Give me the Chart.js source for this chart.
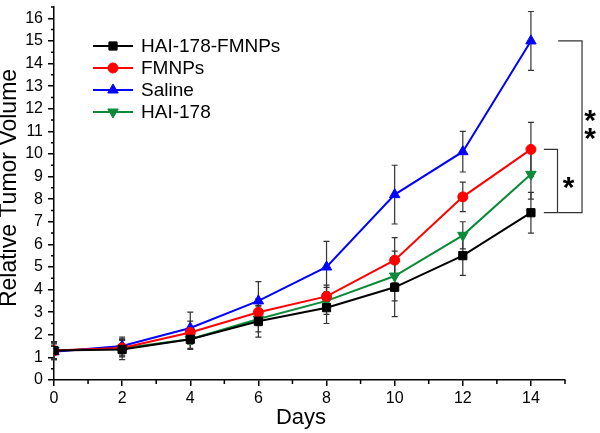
<!DOCTYPE html>
<html>
<head>
<meta charset="utf-8">
<script src="https://cdn.jsdelivr.net/npm/chart.js@4.4.0/dist/chart.umd.min.js"></script>
<style>
  html, body { margin: 0; padding: 0; background: #fff; }
</style>
</head>
<body>
<canvas id="chart" width="600" height="433"></canvas>
<script>
  // Datos
  const days = [0, 2, 4, 6, 8, 10, 12, 14];
  const hai178fmnps = [1.3, 1.35, 1.8, 2.6, 3.2, 4.1, 5.5, 7.4];
  const fmnps       = [1.3, 1.42, 2.1, 3.0, 3.7, 5.3, 8.1, 10.2];
  const saline      = [1.25, 1.5, 2.3, 3.5, 5.0, 8.2, 10.1, 15.0];
  const hai178      = [1.3, 1.4, 1.8, 2.7, 3.5, 4.6, 6.4, 9.1];

  const errHai178fmnps = [0.4, 0.45, 0.45, 0.7, 0.7, 1.3, 0.87, 0.9];
  const errFmnps       = [0.35, 0.4, 0.5, 0.6, 0.5, 1.0, 0.65, 1.2];
  const errSaline      = [0.35, 0.4, 0.7, 0.85, 1.13, 1.3, 0.9, 1.3];
  const errHai178      = [0.35, 0.35, 0.4, 0.57, 0.6, 1.1, 0.6, 1.1];

  const xTicks = [0, 2, 4, 6, 8, 10, 12, 14];
  const xMinor = [1, 3, 5, 7, 9, 11, 13, 15];
  const yTicks = [0, 1, 2, 3, 4, 5, 6, 7, 8, 9, 10, 11, 12, 13, 14, 15, 16];
  const yMinor = [0.5, 1.5, 2.5, 3.5, 4.5, 5.5, 6.5, 7.5, 8.5, 9.5, 10.5, 11.5, 12.5, 13.5, 14.5, 15.5, 16.5];

  const xTitle = 'Days';
  const yTitle = 'Relative Tumor Volume';

  const FONT = "'Liberation Sans', Arial, sans-serif";
  const GREEN = '#0b8a3a';

  const toPoints = (ys) => ys.map((y, i) => ({ x: days[i], y }));

  const series = [
    { label: 'HAI-178-FMNPs', data: hai178fmnps, err: errHai178fmnps, color: '#000000', style: 'rect',     radius: 5.8, rotation: 0 },
    { label: 'FMNPs',         data: fmnps,       err: errFmnps,       color: '#ff0000', style: 'circle',   radius: 5,   rotation: 0 },
    { label: 'Saline',        data: saline,      err: errSaline,      color: '#0000ff', style: 'triangle', radius: 6,   rotation: 0 },
    { label: 'HAI-178',       data: hai178,      err: errHai178,      color: GREEN,     style: 'triangle', radius: 6,   rotation: 180 }
  ];

  // Barras de error
  const errorBars = {
    id: 'errorBars',
    beforeDatasetsDraw(chart) {
      const { ctx, scales: { x, y } } = chart;
      ctx.save();
      ctx.strokeStyle = '#333';
      ctx.lineWidth = 1.2;
      series.forEach(s => {
        s.data.forEach((v, i) => {
          const px = x.getPixelForValue(days[i]);
          const t = y.getPixelForValue(v + s.err[i]);
          const b = y.getPixelForValue(v - s.err[i]);
          ctx.beginPath();
          ctx.moveTo(px, t); ctx.lineTo(px, b);
          ctx.moveTo(px - 3, t); ctx.lineTo(px + 3, t);
          ctx.moveTo(px - 3, b); ctx.lineTo(px + 3, b);
          ctx.stroke();
        });
      });
      ctx.restore();
    }
  };

  // Ticks menores y títulos de ejes
  const axisExtras = {
    id: 'axisExtras',
    afterDraw(chart) {
      const { ctx, scales: { x, y }, chartArea } = chart;
      ctx.save();
      ctx.strokeStyle = '#000';
      ctx.lineWidth = 1.5;
      ctx.beginPath();
      xMinor.forEach(v => {
        const px = x.getPixelForValue(v);
        ctx.moveTo(px, chartArea.bottom); ctx.lineTo(px, chartArea.bottom + 4);
      });
      yMinor.forEach(v => {
        const py = y.getPixelForValue(v);
        ctx.moveTo(chartArea.left, py); ctx.lineTo(chartArea.left - 3, py);
      });
      ctx.stroke();

      ctx.fillStyle = '#000';
      ctx.font = '22px ' + FONT;
      ctx.textAlign = 'center';
      ctx.textBaseline = 'middle';
      ctx.fillText(xTitle, chartArea.left + 247, chartArea.bottom + 38);

      ctx.font = '23px ' + FONT;
      ctx.translate(10, chartArea.top + 181);
      ctx.rotate(-Math.PI / 2);
      ctx.fillText(yTitle, 0, 0);
      ctx.restore();
    }
  };

  function marker(ctx, s, px, py) {
    ctx.fillStyle = s.color;
    ctx.strokeStyle = s.color;
    ctx.lineWidth = 1;
    if (Chart.helpers && Chart.helpers.drawPoint) {
      Chart.helpers.drawPoint(ctx, { pointStyle: s.style, radius: s.radius, rotation: s.rotation, borderWidth: 1 }, px, py);
    } else {
      ctx.beginPath(); ctx.arc(px, py, s.radius, 0, Math.PI * 2); ctx.fill();
    }
  }

  // Leyenda dentro del área
  const innerLegend = {
    id: 'innerLegend',
    afterDraw(chart) {
      const { ctx, chartArea } = chart;
      const x0 = chartArea.left + 39;
      ctx.save();
      ctx.font = '19px ' + FONT;
      ctx.textBaseline = 'middle';
      series.forEach((s, i) => {
        const py = chartArea.top + 39 + i * 22;
        ctx.strokeStyle = s.color;
        ctx.lineWidth = 2;
        ctx.beginPath(); ctx.moveTo(x0, py); ctx.lineTo(x0 + 40, py); ctx.stroke();
        marker(ctx, s, x0 + 20, py);
        ctx.fillStyle = '#000';
        ctx.fillText(s.label, x0 + 48, py + 1);
      });
      ctx.restore();
    }
  };

  // Corchetes de significancia
  const brackets = [
    { top: fmnps[7],  bottom: hai178fmnps[7], from: 14.38, to: 14.78, stars: 1 },
    { top: saline[7], bottom: hai178fmnps[7], from: 14.8,  to: 15.5,  stars: 2 }
  ];
  const significance = {
    id: 'significance',
    afterDraw(chart) {
      const { ctx, scales: { x, y } } = chart;
      ctx.save();
      ctx.strokeStyle = '#333';
      ctx.lineWidth = 1.2;
      ctx.fillStyle = '#000';
      ctx.font = 'bold 30px ' + FONT;
      ctx.textAlign = 'center';
      ctx.textBaseline = 'alphabetic';
      brackets.forEach(b => {
        const x0 = x.getPixelForValue(b.from), x1 = x.getPixelForValue(b.to);
        const yt = y.getPixelForValue(b.top), yb = y.getPixelForValue(b.bottom);
        ctx.beginPath();
        ctx.moveTo(x0, yt); ctx.lineTo(x1, yt); ctx.lineTo(x1, yb); ctx.lineTo(x0, yb);
        ctx.stroke();
        const m = ctx.measureText('*');
        const shift = (m.actualBoundingBoxAscent - m.actualBoundingBoxDescent) / 2;
        const cy = (yt + yb) / 2;
        if (b.stars === 1) {
          ctx.fillText('*', x1 + 11, cy + 2 + shift);
        } else {
          ctx.fillText('*', x1 + 8, cy - 11 + shift);
          ctx.fillText('*', x1 + 8, cy + 7 + shift);
        }
      });
      ctx.restore();
    }
  };

  const chart = new Chart(document.getElementById('chart').getContext('2d'), {
    type: 'line',
    data: {
      datasets: series.map(s => ({
        label: s.label,
        data: toPoints(s.data),
        borderColor: s.color,
        backgroundColor: s.color,
        borderWidth: 2,
        pointStyle: s.style,
        pointRadius: s.radius,
        pointRotation: s.rotation,
        pointBorderWidth: 1,
        tension: 0,
        fill: false
      }))
    },
    options: {
      responsive: false,
      animation: false,
      layout: { padding: { left: 0, right: 35, top: 0, bottom: 0 } },
      plugins: { legend: { display: false }, tooltip: { enabled: false } },
      scales: {
        x: {
          type: 'linear', min: 0, max: 15,
          afterBuildTicks: (sc) => { sc.ticks = xTicks.map(v => ({ value: v })); },
          afterFit: (sc) => { sc.height = 53; sc.paddingLeft = 0; sc.paddingRight = 0; },
          ticks: { color: '#000', font: { family: FONT, size: 16 }, padding: 3, maxRotation: 0 },
          grid: { drawOnChartArea: false, drawTicks: true, tickLength: 6, color: '#000', lineWidth: 1.5 },
          border: { color: '#000', width: 1.5 }
        },
        y: {
          type: 'linear', min: 0, max: 16.5,
          afterBuildTicks: (sc) => { sc.ticks = yTicks.map(v => ({ value: v })); },
          afterFit: (sc) => { sc.width = 54; sc.paddingTop = 0; sc.paddingBottom = 0; },
          ticks: { color: '#000', font: { family: FONT, size: 16 }, padding: 5 },
          grid: { drawOnChartArea: false, drawTicks: true, tickLength: 6, color: '#000', lineWidth: 1.5 },
          border: { color: '#000', width: 1.5 }
        }
      }
    },
    plugins: [errorBars, axisExtras, innerLegend, significance]
  });
</script>
</body>
</html>
